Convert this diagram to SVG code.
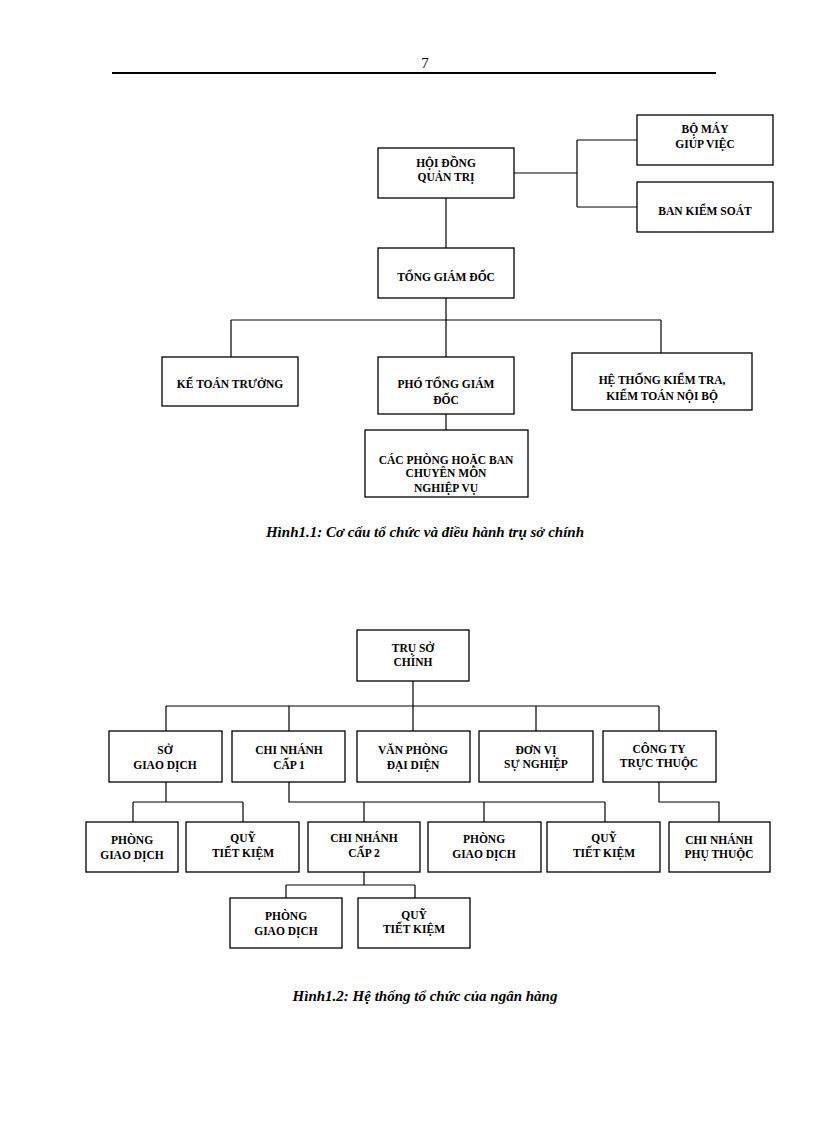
<svg xmlns="http://www.w3.org/2000/svg" width="816" height="1123" viewBox="0 0 816 1123">
<style>
.b{fill:#fff;stroke:#000;stroke-width:1.3}
.t{font-family:"Liberation Serif",serif;font-weight:bold;font-size:11.5px;text-anchor:middle}
.c{fill:none;stroke:#000;stroke-width:1.2}
.cap{font-family:"Liberation Serif",serif;font-weight:bold;font-style:italic;font-size:15px;text-anchor:middle}
</style>
<rect width="816" height="1123" fill="#fff"/>
<text x="425" y="68" font-family="Liberation Serif,serif" font-size="15" text-anchor="middle">7</text>
<line x1="112" y1="73" x2="716" y2="73" stroke="#000" stroke-width="2.2"/>
<g id="connectors">
<path class="c" d="M514 173H577M577 140V207M577 140H637M577 207H637M446 198V248M446 298V357M231 320H661M231 320V357M661 320V353M446 414V430"/>
<path class="c" d="M413 681V706M166 706H659M166 706V731M289 706V731M413 706V731M536 706V731M659 706V731M166 782V802M133 802H243M133 802V822M243 802V822M289 782V802H605M364 802V822M484 802V822M605 802V822M659 782V802H719V822M364 872V885M286 885H415M286 885V898M415 885V898"/>
</g>
<g id="hdqt"><rect class="b" x="378" y="148" width="136" height="50"/><text class="t" x="446" y="167">HỘI ĐỒNG</text><text class="t" x="446" y="181">QUẢN TRỊ</text></g>
<g id="bmgv"><rect class="b" x="637" y="115" width="136" height="50"/><text class="t" x="705" y="133">BỘ MÁY</text><text class="t" x="705" y="148">GIÚP  VIỆC</text></g>
<g id="bks"><rect class="b" x="637" y="182" width="136" height="50"/><text class="t" x="705" y="215">BAN KIỂM SOÁT</text></g>
<g id="tgd"><rect class="b" x="378" y="248" width="136" height="50"/><text class="t" x="446" y="281">TỔNG GIÁM ĐỐC</text></g>
<g id="ktt"><rect class="b" x="162" y="357" width="136" height="49"/><text class="t" x="230" y="388">KẾ TOÁN TRƯỞNG</text></g>
<g id="ptgd"><rect class="b" x="378" y="357" width="136" height="57"/><text class="t" x="446" y="388">PHÓ TỔNG GIÁM</text><text class="t" x="446" y="404">ĐỐC</text></g>
<g id="htkt"><rect class="b" x="572" y="353" width="180" height="57"/><text class="t" x="662" y="384">HỆ THỐNG KIỂM TRA,</text><text class="t" x="662" y="400">KIỂM TOÁN NỘI BỘ</text></g>
<g id="cpb"><rect class="b" x="365" y="430" width="163" height="67"/><text class="t" x="446" y="464">CÁC PHÒNG HOẶC BAN</text><text class="t" x="446" y="477">CHUYÊN MÔN</text><text class="t" x="446" y="492">NGHIỆP  VỤ</text></g>
<text class="cap" x="425" y="537">Hình1.1: Cơ cấu tổ chức và điều hành trụ sở chính</text>

<g id="tsc"><rect class="b" x="357" y="630" width="112" height="51"/><text class="t" x="413" y="652">TRỤ  SỞ</text><text class="t" x="413" y="666">CHÍNH</text></g>
<g id="sgd"><rect class="b" x="109" y="731" width="113" height="51"/><text class="t" x="165" y="754">SỞ</text><text class="t" x="165" y="769">GIAO DỊCH</text></g>
<g id="cn1"><rect class="b" x="232" y="731" width="113" height="51"/><text class="t" x="289" y="754">CHI NHÁNH</text><text class="t" x="289" y="769">CẤP 1</text></g>
<g id="vpdd"><rect class="b" x="357" y="731" width="113" height="51"/><text class="t" x="413" y="754">VĂN PHÒNG</text><text class="t" x="413" y="769">ĐẠI DIỆN</text></g>
<g id="dvsn"><rect class="b" x="479" y="731" width="114" height="51"/><text class="t" x="536" y="754">ĐƠN VỊ</text><text class="t" x="536" y="768">SỰ NGHIỆP</text></g>
<g id="cttt"><rect class="b" x="603" y="731" width="113" height="51"/><text class="t" x="659" y="753">CÔNG TY</text><text class="t" x="659" y="767">TRỰC THUỘC</text></g>
<g id="pgd1"><rect class="b" x="86" y="822" width="92" height="50"/><text class="t" x="132" y="844">PHÒNG</text><text class="t" x="132" y="859">GIAO DỊCH</text></g>
<g id="qtk1"><rect class="b" x="186" y="822" width="113" height="50"/><text class="t" x="243" y="842">QUỸ</text><text class="t" x="243" y="857">TIẾT   KIỆM</text></g>
<g id="cn2"><rect class="b" x="308" y="822" width="112" height="50"/><text class="t" x="364" y="842">CHI NHÁNH</text><text class="t" x="364" y="857">CẤP 2</text></g>
<g id="pgd2"><rect class="b" x="428" y="822" width="113" height="50"/><text class="t" x="484" y="843">PHÒNG</text><text class="t" x="484" y="858">GIAO DỊCH</text></g>
<g id="qtk2"><rect class="b" x="547" y="822" width="113" height="50"/><text class="t" x="604" y="842">QUỸ</text><text class="t" x="604" y="857">TIẾT   KIỆM</text></g>
<g id="cnpt"><rect class="b" x="669" y="822" width="101" height="50"/><text class="t" x="719" y="844">CHI NHÁNH</text><text class="t" x="719" y="858">PHỤ THUỘC</text></g>
<g id="pgd3"><rect class="b" x="230" y="898" width="112" height="50"/><text class="t" x="286" y="920">PHÒNG</text><text class="t" x="286" y="935">GIAO DỊCH</text></g>
<g id="qtk3"><rect class="b" x="358" y="898" width="112" height="50"/><text class="t" x="414" y="919">QUỸ</text><text class="t" x="414" y="933">TIẾT   KIỆM</text></g>
<text class="cap" x="425" y="1001">Hình1.2: Hệ thống tổ chức của ngân hàng</text>
</svg>
